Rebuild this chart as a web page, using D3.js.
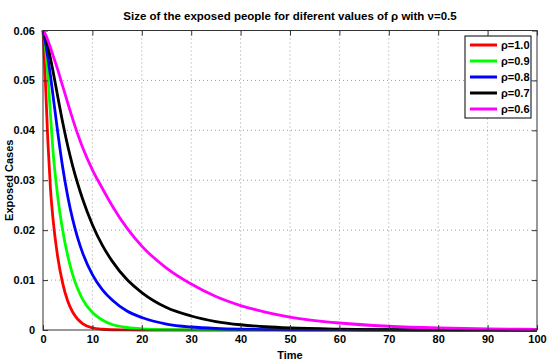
<!DOCTYPE html>
<html>
<head>
<meta charset="utf-8">
<script src="https://cdn.jsdelivr.net/npm/d3@7"></script>
<style>
  body { margin: 0; background: #fff; }
  svg text { font-family: "Liberation Sans", Arial, sans-serif; font-weight: bold; }
</style>
</head>
<body>
<div id="chart"></div>
<script>
// sample times shared by every curve
const times = [0, 0.5, 1, 1.5, 2, 3, 4, 5, 6, 7, 8, 10, 12, 14, 17, 20, 25, 30, 35, 40, 45, 50, 60, 70, 80, 90, 100];

// exposed cases
const rho10 = [0.06, 0.0495, 0.0375, 0.0285, 0.0225, 0.0145, 0.0093, 0.0058, 0.0036, 0.0022, 0.0013, 0.00045, 0.00015, 0.00005, 0.00001, 0, 0, 0, 0, 0, 0, 0, 0, 0, 0, 0, 0];
const rho09 = [0.06, 0.0565, 0.0508, 0.0433, 0.0362, 0.0266, 0.0199, 0.0149, 0.0111, 0.0083, 0.0062, 0.0035, 0.002, 0.0011, 0.0005, 0.00022, 0.00006, 0.00002, 0, 0, 0, 0, 0, 0, 0, 0, 0];
const rho08 = [0.06, 0.0575, 0.0545, 0.051, 0.0472, 0.0395, 0.0325, 0.0268, 0.0222, 0.0185, 0.0155, 0.0111, 0.0081, 0.006, 0.0038, 0.0025, 0.0012, 0.0006, 0.0003, 0.00015, 0.00008, 0.00004, 0.00001, 0, 0, 0, 0];
const rho07 = [0.06, 0.0588, 0.0568, 0.0545, 0.052, 0.0467, 0.0415, 0.0369, 0.0329, 0.0294, 0.0263, 0.0211, 0.017, 0.0138, 0.0101, 0.0075, 0.0045, 0.0028, 0.0017, 0.00105, 0.00065, 0.0004, 0.00016, 0.00006, 0.00003, 0.00001, 0];
const rho06 = [0.06, 0.0592, 0.058, 0.0566, 0.0551, 0.0521, 0.0488, 0.0455, 0.0423, 0.0393, 0.0366, 0.0321, 0.0284, 0.0249, 0.0204, 0.0168, 0.0124, 0.0092, 0.0067, 0.0049, 0.0036, 0.0026, 0.0014, 0.00075, 0.0004, 0.00022, 0.00012];

const seriesNames = ["ρ=1.0", "ρ=0.9", "ρ=0.8", "ρ=0.7", "ρ=0.6"];
const seriesColors = ["#ff0000", "#00ff00", "#0000ff", "#000000", "#ff00ff"];
const seriesValues = [rho10, rho09, rho08, rho07, rho06];

const xTicks = [0, 10, 20, 30, 40, 50, 60, 70, 80, 90, 100];
const yTicks = [0, 0.01, 0.02, 0.03, 0.04, 0.05, 0.06];

const width = 550, height = 364;
const margin = { top: 30.5, right: 13, bottom: 34, left: 43 };
const plotW = width - margin.left - margin.right;
const plotH = height - margin.top - margin.bottom;

const svg = d3.select("#chart").append("svg")
  .attr("width", width)
  .attr("height", height);

const g = svg.append("g").attr("transform", `translate(${margin.left},${margin.top})`);

const x = d3.scaleLinear().domain([0, 100]).range([0, plotW]);
const y = d3.scaleLinear().domain([0, 0.06]).range([plotH, 0]);

// dotted grid
const grid = g.append("g").attr("class", "grid");
grid.selectAll(".gx").data(xTicks.slice(1, -1)).join("line")
  .attr("x1", d => x(d)).attr("x2", d => x(d))
  .attr("y1", 0).attr("y2", plotH)
  .attr("stroke", "#888").attr("stroke-width", 0.8).attr("stroke-dasharray", "1,3");
grid.selectAll(".gy").data(yTicks.slice(1, -1)).join("line")
  .attr("x1", 0).attr("x2", plotW)
  .attr("y1", d => y(d)).attr("y2", d => y(d))
  .attr("stroke", "#888").attr("stroke-width", 0.8).attr("stroke-dasharray", "1,3");

// curves
const line = d3.line()
  .x((d, i) => x(times[i]))
  .y(d => y(d))
  .curve(d3.curveMonotoneX);

g.append("g").selectAll("path").data(seriesValues).join("path")
  .attr("d", d => line(d))
  .attr("fill", "none")
  .attr("stroke", (d, i) => seriesColors[i])
  .attr("stroke-width", 2.8);

// axes (matlab style: inward ticks on all four sides)
const fmtY = d => d === 0 ? "0" : d3.format(".2f")(d);

const axB = g.append("g").attr("transform", `translate(0,${plotH})`)
  .call(d3.axisBottom(x).tickValues(xTicks).tickSizeInner(-5).tickSizeOuter(0).tickPadding(5));
const axL = g.append("g")
  .call(d3.axisLeft(y).tickValues(yTicks).tickFormat(fmtY).tickSizeInner(-5).tickSizeOuter(0).tickPadding(8));
const axT = g.append("g")
  .call(d3.axisTop(x).tickValues(xTicks).tickSizeInner(-5).tickSizeOuter(0).tickFormat(""));
const axR = g.append("g").attr("transform", `translate(${plotW},0)`)
  .call(d3.axisRight(y).tickValues(yTicks).tickSizeInner(-5).tickSizeOuter(0).tickFormat(""));

[axB, axL, axT, axR].forEach(a => {
  a.select(".domain").remove();
  a.selectAll(".tick line").attr("stroke", "#333");
  a.selectAll("text").attr("fill", "#000").style("font-size", "11px");
});

g.append("rect")
  .attr("x", 0).attr("y", 0).attr("width", plotW).attr("height", plotH)
  .attr("fill", "none").attr("stroke", "#333").attr("stroke-width", 1);

// labels
svg.append("text")
  .attr("x", margin.left + plotW / 2).attr("y", 20)
  .attr("text-anchor", "middle")
  .style("font-size", "11.5px")
  .text("Size of the exposed people for diferent values of ρ with ν=0.5");

svg.append("text")
  .attr("x", margin.left + plotW / 2).attr("y", 359)
  .attr("text-anchor", "middle")
  .style("font-size", "11px")
  .text("Time");

svg.append("text")
  .attr("transform", `translate(13,${margin.top + plotH / 2}) rotate(-90)`)
  .attr("text-anchor", "middle")
  .style("font-size", "11px")
  .text("Exposed Cases");

// legend
const leg = svg.append("g").attr("transform", "translate(465,36)");
leg.append("rect")
  .attr("width", 66).attr("height", 82)
  .attr("fill", "#fff").attr("stroke", "#000").attr("stroke-width", 1);
const items = leg.selectAll(".item").data(seriesNames).join("g")
  .attr("transform", (d, i) => `translate(0,${9 + i * 16})`);
items.append("line")
  .attr("x1", 5).attr("x2", 32)
  .attr("stroke", (d, i) => seriesColors[i])
  .attr("stroke-width", 3);
items.append("text")
  .attr("x", 36).attr("dy", "0.35em")
  .style("font-size", "11px")
  .text(d => d);
</script>
</body>
</html>
